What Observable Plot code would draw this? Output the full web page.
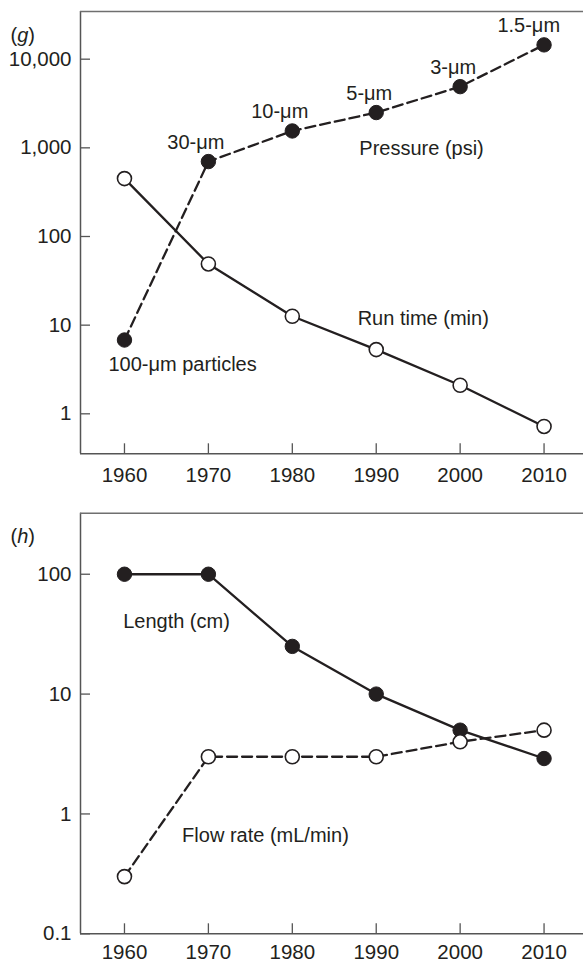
<!DOCTYPE html>
<html>
<head>
<meta charset="utf-8">
<script src="https://cdn.jsdelivr.net/npm/d3@7"></script>
<script src="https://cdn.jsdelivr.net/npm/@observablehq/plot@0.6"></script>
<style>
  body { margin: 0; background: #fff; }
  #chart svg { display: block; }
</style>
</head>
<body>
<div id="chart"></div>
<script>
// Decades shown on the horizontal axis of both panels
const years = [1960, 1970, 1980, 1990, 2000, 2010];

// Panel (g): operating pressure and run time by particle size
const pressurePsi = [6.8, 700, 1550, 2500, 4900, 14500];
const particleSize = ["100-μm particles", "30-μm", "10-μm", "5-μm", "3-μm", "1.5-μm"];
const runTimeMin = [450, 49, 12.6, 5.3, 2.1, 0.72];

// Panel (h): column length and flow rate
const lengthCm = [100, 100, 25, 10, 5, 2.9];
const flowRateMlMin = [0.3, 3, 3, 3, 4, 5];

// Axis tick values
const gTicks = [1, 10, 100, 1000, 10000];
const hTicks = [0.1, 1, 10, 100];

const INK = "#231f20";
const AXIS = "#555";
const FONT = "'Liberation Sans', Arial, Helvetica, sans-serif";
const TICK_FS = 20.5;
const NOTE_FS = 20;
const W = 583;
const ML = 80;
const xDomain = [1954.76, 2014.7];

function panel({rows, height, marginTop, marginBottom, xPad, yDomain, ticks, tag,
                solidKey, dashedKey, filledKey, openKey, notes, sizeLabels}) {
  const plotH = height - marginTop - marginBottom;
  const plotW = W - ML;
  const marks = [
    // frame: left, bottom, top
    Plot.ruleX([xDomain[0]], {stroke: AXIS, strokeWidth: 1.5}),
    Plot.ruleY([yDomain[0]], {stroke: AXIS, strokeWidth: 1.5}),
    Plot.ruleY([yDomain[1]], {stroke: "#6f6f6f", strokeWidth: 1.5}),
    // inward tick marks
    Plot.tickX(years, {stroke: AXIS, strokeWidth: 1.3, insetTop: plotH - 10}),
    Plot.tickY(ticks, {stroke: AXIS, strokeWidth: 1.3, insetRight: plotW - 10}),
    Plot.axisX({ticks: years, tickSize: 0, tickPadding: xPad, tickFormat: d => String(d), fontSize: TICK_FS, label: null}),
    Plot.axisY({ticks, tickSize: 0, tickPadding: 9, tickFormat: d3.format(","), fontSize: TICK_FS, label: null}),
    // series lines
    Plot.line(rows, {x: "year", y: dashedKey, stroke: INK, strokeWidth: 2.3, strokeDasharray: "10,5"}),
    Plot.line(rows, {x: "year", y: solidKey, stroke: INK, strokeWidth: 2.3}),
    // markers
    Plot.dot(rows, {x: "year", y: filledKey, r: 7.2, fill: INK, stroke: INK, strokeWidth: 1}),
    Plot.dot(rows, {x: "year", y: openKey, r: 7, fill: "#fff", stroke: INK, strokeWidth: 1.6}),
    // series names
    Plot.text(notes, {x: "year", y: "value", text: "label", fill: INK, fontSize: NOTE_FS}),
    // panel tag
    Plot.text([tag], {frameAnchor: "top-left", textAnchor: "start", dx: -70, dy: 16, fill: INK, fontSize: NOTE_FS})
  ];
  if (sizeLabels) {
    marks.push(
      Plot.text(rows.filter((d, i) => i > 0), {x: "year", y: filledKey, text: "size", textAnchor: "end",
        dx: 16, dy: -19, fill: INK, fontSize: NOTE_FS}),
      Plot.text(rows.filter((d, i) => i === 0), {x: "year", y: filledKey, text: "size", textAnchor: "start",
        dx: -16, dy: 25, fill: INK, fontSize: NOTE_FS})
    );
  }
  const svg = Plot.plot({
    width: W,
    height,
    marginLeft: ML,
    marginRight: 0,
    marginTop,
    marginBottom,
    style: {fontFamily: FONT, color: INK, background: "#fff", overflow: "visible"},
    x: {domain: xDomain, label: null},
    y: {type: "log", domain: yDomain, label: null},
    marks
  });
  // italic letter inside the panel tag
  svg.querySelectorAll("text").forEach(t => {
    if (t.textContent === tag) {
      const letter = tag.slice(1, -1);
      t.textContent = "";
      const ns = "http://www.w3.org/2000/svg";
      const a = document.createElementNS(ns, "tspan"); a.textContent = "(";
      const b = document.createElementNS(ns, "tspan"); b.textContent = letter; b.setAttribute("font-style", "italic");
      const c = document.createElementNS(ns, "tspan"); c.textContent = ")";
      t.append(a, b, c);
    }
  });
  return svg;
}

const gRows = years.map((year, i) => ({year, pressure: pressurePsi[i], run: runTimeMin[i], size: particleSize[i]}));
const hRows = years.map((year, i) => ({year, length: lengthCm[i], flow: flowRateMlMin[i]}));

const chart = document.getElementById("chart");
chart.append(panel({
  rows: gRows, height: 500, marginTop: 11, marginBottom: 46.7, xPad: 14,
  yDomain: [0.354, 34500], ticks: gTicks, tag: "(g)",
  solidKey: "run", dashedKey: "pressure", filledKey: "pressure", openKey: "run",
  notes: [
    {label: "Pressure (psi)", year: 1995.4, value: 990},
    {label: "Run time (min)", year: 1995.6, value: 12}
  ],
  sizeLabels: true
}));
chart.append(panel({
  rows: hRows, height: 463, marginTop: 12.7, marginBottom: 29.7, xPad: 10.5,
  yDomain: [0.1, 323], ticks: hTicks, tag: "(h)",
  solidKey: "length", dashedKey: "flow", filledKey: "length", openKey: "flow",
  notes: [
    {label: "Length (cm)", year: 1966.2, value: 40},
    {label: "Flow rate (mL/min)", year: 1976.8, value: 0.66}
  ],
  sizeLabels: false
}));
</script>
</body>
</html>
